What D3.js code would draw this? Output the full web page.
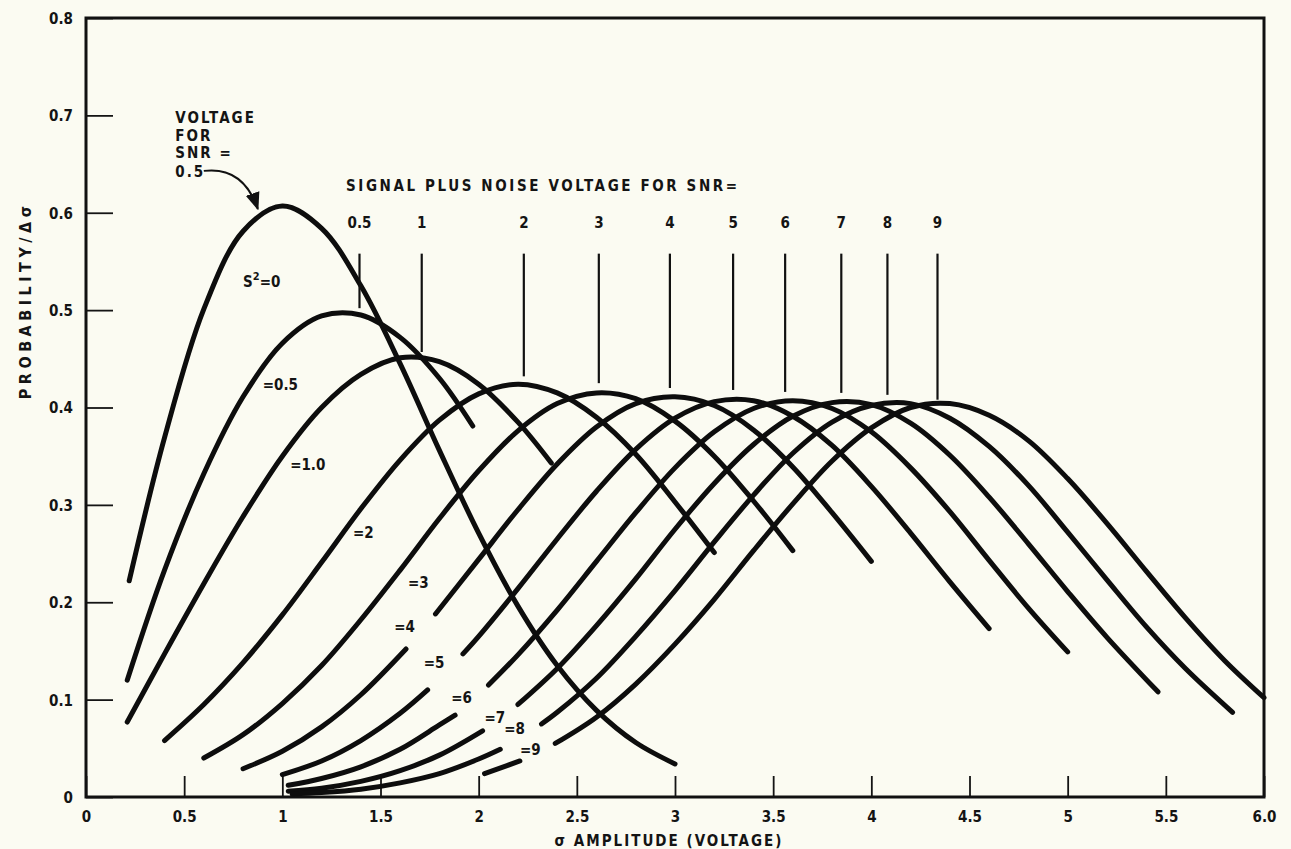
<!DOCTYPE html>
<html><head><meta charset="utf-8">
<script src="https://cdn.jsdelivr.net/npm/d3@7"></script>
<style>
html,body{margin:0;padding:0;background:#fbfbf2;}
svg{display:block;}
text{font-family:"DejaVu Sans Condensed","DejaVu Sans",sans-serif;font-weight:bold;fill:#141414;}
</style></head><body>
<svg id="c" width="1291" height="849"></svg>
<script>
// ---------- data ----------
const xTickValues = [0,0.5,1,1.5,2,2.5,3,3.5,4,4.5,5,5.5,6];
const xTickLabels = ["0","0.5","1","1.5","2","2.5","3","3.5","4","4.5","5","5.5","6.0"];
const yTickValues = [0,0.1,0.2,0.3,0.4,0.5,0.6,0.7,0.8];
const yTickLabels = ["0","0.1","0.2","0.3","0.4","0.5","0.6","0.7","0.8"];

// curves labelled by s^2 ; [sigma amplitude, probability/dsigma]
const s2_0   = [[0.22,0.222],[0.4,0.369],[0.6,0.501],[0.8,0.581],[1.0,0.607],[1.2,0.584],[1.4,0.525],[1.6,0.445],[1.8,0.356],[2.0,0.271],[2.2,0.196],[2.4,0.135],[2.6,0.089],[2.8,0.056],[3.0,0.034]];
const s2_05  = [[0.21,0.12],[0.4,0.233],[0.6,0.332],[0.8,0.411],[1.0,0.466],[1.2,0.494],[1.4,0.495],[1.6,0.472],[1.8,0.430],[1.97,0.381]];
const s2_1   = [[0.21,0.077],[0.4,0.147],[0.6,0.219],[0.8,0.288],[1.0,0.350],[1.2,0.400],[1.4,0.434],[1.6,0.451],[1.8,0.447],[2.0,0.424],[2.2,0.385],[2.37,0.343]];
const s2_2   = [[0.4,0.058],[0.6,0.095],[0.8,0.138],[1.0,0.187],[1.2,0.241],[1.4,0.296],[1.6,0.346],[1.8,0.387],[2.0,0.414],[2.2,0.424],[2.4,0.415],[2.6,0.390],[2.8,0.352],[3.0,0.303],[3.2,0.251]];
const s2_3   = [[0.6,0.040],[0.8,0.064],[1.0,0.096],[1.2,0.135],[1.4,0.182],[1.6,0.233],[1.8,0.286],[2.0,0.335],[2.2,0.376],[2.4,0.404],[2.6,0.415],[2.8,0.409],[3.0,0.386],[3.2,0.350],[3.4,0.304],[3.6,0.253]];
const s2_4lo = [[0.8,0.029],[1.0,0.047],[1.2,0.072],[1.4,0.105],[1.63,0.152]];
const s2_4hi = [[1.78,0.188],[2.0,0.244],[2.2,0.295],[2.4,0.342],[2.6,0.380],[2.8,0.404],[3.0,0.411],[3.2,0.402],[3.4,0.377],[3.6,0.339],[3.8,0.292],[4.0,0.242]];
const s2_5lo = [[1.0,0.023],[1.2,0.037],[1.4,0.058],[1.6,0.086],[1.74,0.110]];
const s2_5hi = [[1.92,0.147],[2.0,0.165],[2.2,0.214],[2.4,0.265],[2.6,0.314],[2.8,0.357],[3.0,0.389],[3.2,0.406],[3.4,0.407],[3.6,0.391],[3.8,0.361],[4.0,0.319],[4.2,0.271],[4.4,0.221],[4.6,0.173]];
const s2_6lo = [[1.03,0.012],[1.2,0.019],[1.4,0.031],[1.6,0.049],[1.8,0.074],[1.88,0.084]];
const s2_6hi = [[2.05,0.115],[2.2,0.146],[2.4,0.192],[2.6,0.242],[2.8,0.292],[3.0,0.338],[3.2,0.375],[3.4,0.399],[3.6,0.407],[3.8,0.399],[4.0,0.375],[4.2,0.338],[4.4,0.293],[4.6,0.243],[4.8,0.194],[5.0,0.149]];
const s2_7lo = [[1.03,0.006],[1.2,0.009],[1.4,0.016],[1.6,0.027],[1.8,0.043],[2.02,0.068]];
const s2_7hi = [[2.2,0.095],[2.4,0.132],[2.6,0.176],[2.8,0.224],[3.0,0.275],[3.2,0.322],[3.4,0.362],[3.6,0.391],[3.8,0.405],[4.0,0.403],[4.2,0.384],[4.4,0.351],[4.6,0.308],[4.8,0.260],[5.0,0.211],[5.2,0.164],[5.46,0.108]];
const s2_8lo = [[1.05,0.003],[1.2,0.0045],[1.4,0.008],[1.6,0.0145],[1.8,0.024],[2.0,0.039],[2.11,0.049]];
const s2_8hi = [[2.32,0.075],[2.4,0.087],[2.6,0.122],[2.8,0.165],[3.0,0.212],[3.2,0.262],[3.4,0.310],[3.6,0.353],[3.8,0.385],[4.0,0.402],[4.2,0.404],[4.4,0.389],[4.6,0.360],[4.8,0.320],[5.0,0.272],[5.2,0.223],[5.4,0.175],[5.6,0.132],[5.84,0.087]];
const s2_9lo = [[2.03,0.024],[2.21,0.037]];
const s2_9hi = [[2.39,0.055],[2.6,0.082],[2.8,0.116],[3.0,0.157],[3.2,0.203],[3.4,0.253],[3.6,0.301],[3.8,0.345],[4.0,0.379],[4.2,0.400],[4.4,0.404],[4.6,0.392],[4.8,0.366],[5.0,0.327],[5.2,0.281],[5.4,0.232],[5.6,0.184],[5.8,0.140],[6.0,0.102]];

const curveSegments = [s2_0,s2_05,s2_1,s2_2,s2_3,s2_4lo,s2_4hi,s2_5lo,s2_5hi,s2_6lo,s2_6hi,s2_7lo,s2_7hi,s2_8lo,s2_8hi,s2_9lo,s2_9hi];

// curve labels
const curveLabelX    = [0.80,0.90,1.04,1.36,1.64,1.57,1.72,1.86,2.03,2.13,2.21];
const curveLabelY    = [0.524,0.418,0.336,0.266,0.215,0.169,0.132,0.097,0.076,0.065,0.043];
const curveLabelPre  = ["S","","","","","","","","","",""];
const curveLabelSup  = ["2","","","","","","","","","",""];
const curveLabelText = ["=0","=0.5","=1.0","=2","=3","=4","=5","=6","=7","=8","=9"];

// signal-plus-noise voltage markers
const snrLabels  = ["0.5","1","2","3","4","5","6","7","8","9"];
const snrX       = [1.393,1.71,2.23,2.612,2.974,3.296,3.561,3.847,4.082,4.337];
const snrLineTop = 0.558;
const snrLineBot = [0.502,0.457,0.432,0.425,0.420,0.418,0.416,0.415,0.413,0.408];

// ---------- drawing ----------
const svg = d3.select("#c");
const x = d3.scaleLinear().domain([0,6]).range([86,1264]);
const y = d3.scaleLinear().domain([0,0.8]).range([797,18]);

const xAxis = d3.axisBottom(x).tickValues(xTickValues)
  .tickFormat((d,i)=>xTickLabels[i]).tickSizeInner(-21).tickSizeOuter(0).tickPadding(14);
const gx = svg.append("g").attr("transform",`translate(0,${y(0)})`).call(xAxis);
const yAxis = d3.axisLeft(y).tickValues(yTickValues)
  .tickFormat((d,i)=>yTickLabels[i]).tickSizeInner(-27).tickSizeOuter(0).tickPadding(13);
const gy = svg.append("g").attr("transform",`translate(${x(0)},0)`).call(yAxis);
[gx,gy].forEach(g=>{
  g.select(".domain").remove();
  g.selectAll(".tick line").attr("stroke","#141414").attr("stroke-width",1.8);
  g.selectAll(".tick text").attr("font-size",15).attr("font-family",null).attr("fill","#141414");
});
gx.selectAll(".tick text").attr("dy","0.71em");
gy.selectAll(".tick text").attr("dy","0.36em");

svg.append("rect").attr("x",x(0)).attr("y",y(0.8)).attr("width",x(6)-x(0)).attr("height",y(0)-y(0.8))
  .attr("fill","none").attr("stroke","#111").attr("stroke-width",3);

const line = d3.line().x(d=>x(d[0])).y(d=>y(d[1])).curve(d3.curveCatmullRom.alpha(0.5));
svg.append("g").selectAll("path").data(curveSegments).join("path")
  .attr("d",line).attr("fill","none").attr("stroke","#0d0d0d")
  .attr("stroke-width",5).attr("stroke-linecap","round").attr("stroke-linejoin","round");

const lab = svg.append("g").selectAll("text").data(curveLabelText).join("text")
  .attr("x",(d,i)=>x(curveLabelX[i])).attr("y",(d,i)=>y(curveLabelY[i])).attr("font-size",15);
lab.each(function(d,i){
  const t=d3.select(this);
  if(curveLabelPre[i]){
    t.append("tspan").text(curveLabelPre[i]);
    t.append("tspan").attr("font-size",11).attr("dy",-7).text(curveLabelSup[i]);
    t.append("tspan").attr("dy",7).text(d);
  } else t.text(d);
});

svg.append("text").attr("x",346).attr("y",y(0.622)).attr("font-size",15)
  .attr("letter-spacing",2.6).text("SIGNAL PLUS NOISE VOLTAGE FOR SNR=");
svg.append("g").selectAll("line").data(snrX).join("line")
  .attr("x1",d=>x(d)).attr("x2",d=>x(d)).attr("y1",y(snrLineTop)).attr("y2",(d,i)=>y(snrLineBot[i]))
  .attr("stroke","#111").attr("stroke-width",2.2);
svg.append("g").selectAll("text").data(snrLabels).join("text")
  .attr("x",(d,i)=>x(snrX[i])).attr("y",y(0.584)).attr("text-anchor","middle")
  .attr("font-size",15).text(d=>d);

const noteLines = ["VOLTAGE","FOR","SNR =","0.5"];
const noteY = [0.692,0.674,0.656,0.637];
svg.append("g").selectAll("text").data(noteLines).join("text")
  .attr("x",x(0.455)).attr("y",(d,i)=>y(noteY[i])).attr("font-size",15).attr("letter-spacing",2).text(d=>d);
svg.append("defs").append("marker").attr("id","ah").attr("viewBox","0 0 10 10").attr("refX",9).attr("refY",5)
  .attr("markerWidth",9).attr("markerHeight",9).attr("orient","auto")
  .append("path").attr("d","M0,1 L10,5 L0,9 Z").attr("fill","#111");
const a0=[x(0.6),y(0.643)], a1=[x(0.875),y(0.604)];
svg.append("path").attr("d",`M${a0[0]},${a0[1]} Q${x(0.8)},${y(0.648)} ${a1[0]},${a1[1]}`)
  .attr("fill","none").attr("stroke","#111").attr("stroke-width",2).attr("marker-end","url(#ah)");

svg.append("text").attr("transform",`translate(26,${y(0.51)}) rotate(-90)`).attr("text-anchor","middle")
  .attr("dominant-baseline","middle").attr("font-size",16).attr("letter-spacing",4.5).text("PROBABILITY/Δσ");
svg.append("text").attr("x",669).attr("y",846).attr("text-anchor","middle").attr("font-size",15)
  .attr("letter-spacing",2).text("σ AMPLITUDE (VOLTAGE)");
</script>
</body></html>
